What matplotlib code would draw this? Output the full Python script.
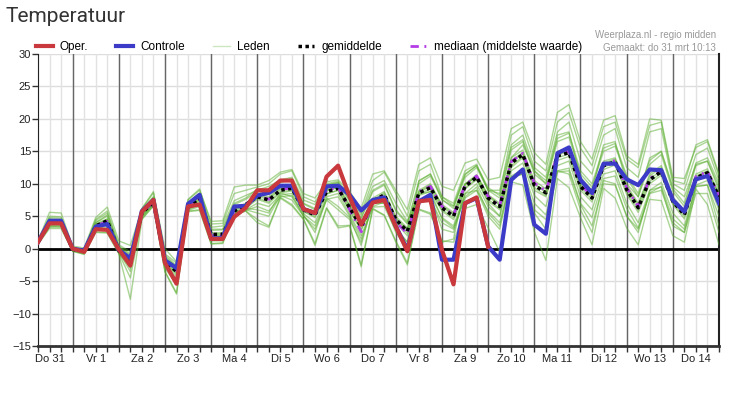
import numpy as np
import matplotlib.pyplot as plt
from matplotlib.lines import Line2D

plt.rcParams['font.family'] = ['Liberation Sans', 'DejaVu Sans']

# tijdstappen van 6 uur, vanaf do 31 06:00 (uren sinds do 31 00:00)
uren = np.arange(6, 361, 6)
dagen = ['Do 31', 'Vr 1', 'Za 2', 'Zo 3', 'Ma 4', 'Di 5', 'Wo 6', 'Do 7',
         'Vr 8', 'Za 9', 'Zo 10', 'Ma 11', 'Di 12', 'Wo 13', 'Do 14']

oper = [1.0, 3.9, 3.9, 0.0, -0.5, 3.0, 2.9, -0.1, -2.6, 5.7, 7.5, -2.2,
        -5.4, 6.5, 6.8, 1.5, 1.5, 4.9, 6.3, 9.0, 9.0, 10.5, 10.5, 6.1,
        5.5, 11.1, 12.8, 8.0, 3.7, 7.1, 7.5, 3.4, -0.4, 7.3, 7.5, -0.2,
        -5.5, 7.0, 7.9, 0.3]

controle = [1.0, 4.3, 4.3, 0.0, -0.3, 3.4, 3.8, -0.2, -1.5, 5.8, 7.5, -1.8,
            -3.0, 6.9, 8.3, 1.6, 1.6, 6.5, 6.6, 8.2, 8.6, 9.7, 9.7, 6.1,
            5.5, 9.6, 9.7, 8.3, 5.9, 7.5, 7.9, 3.5, -0.2, 7.3, 8.3, -1.7,
            -1.7, 7.0, 7.8, 0.35, -1.7, 10.6, 12.2, 3.7, 2.3, 14.7, 15.6, 10.6,
            8.6, 13.1, 13.1, 10.7, 9.8, 12.2, 12.1, 7.5, 5.7, 10.7, 11.2, 7.0]

gemiddelde = [1.0, 4.0, 4.0, -0.1, -0.4, 3.5, 4.3, -0.3, -1.8, 5.5, 7.2, -2.0,
              -3.5, 6.4, 7.8, 2.2, 2.2, 5.8, 6.8, 8.0, 7.5, 9.0, 9.3, 6.0,
              5.2, 8.8, 9.3, 6.3, 3.4, 7.3, 8.3, 4.5, 2.7, 8.6, 9.4, 6.3,
              5.0, 9.6, 11.0, 7.8, 6.5, 13.2, 14.5, 9.8, 8.6, 14.3, 14.8, 9.6,
              7.8, 12.8, 13.4, 9.1, 6.3, 10.6, 11.9, 7.3, 5.2, 10.9, 11.7, 8.0]

mediaan = [1.0, 4.0, 4.0, -0.1, -0.4, 3.5, 4.2, -0.3, -1.7, 5.5, 7.2, -2.0,
           -3.4, 6.4, 7.8, 2.1, 2.1, 5.8, 6.7, 8.1, 7.6, 9.1, 9.4, 6.1,
           5.4, 9.0, 9.5, 6.0, 2.6, 7.2, 8.2, 4.2, 2.3, 8.8, 9.6, 6.5,
           5.2, 9.8, 11.2, 8.0, 6.6, 13.4, 14.7, 10.1, 8.9, 14.4, 15.0, 9.9,
           8.1, 13.0, 13.6, 9.4, 6.5, 10.8, 12.1, 7.5, 5.5, 11.1, 11.9, 8.1]

leden = [
    [1.0, 4.3, 4.2, 0.0, -0.3, 3.8, 4.6, -0.2, -1.5, 5.7, 7.5, -1.8, -3.2, 6.6, 8.0, 2.4,
     2.5, 6.2, 7.0, 8.4, 8.0, 9.5, 9.8, 6.3, 5.6, 9.2, 9.6, 6.8, 4.0, 7.8, 8.8, 5.0,
     3.2, 9.0, 10.0, 6.8, 5.6, 10.0, 11.4, 8.3, 7.0, 14.0, 15.2, 10.5, 9.2, 15.0, 15.5, 10.2,
     8.5, 13.5, 14.0, 9.8, 7.0, 11.5, 12.8, 8.0, 5.8, 11.5, 12.3, 8.6],
    [1.0, 3.7, 3.8, -0.2, -0.6, 3.2, 4.0, -0.5, -2.2, 5.2, 6.9, -2.3, -3.9, 6.2, 7.5, 1.9,
     2.0, 5.6, 6.2, 7.6, 7.0, 8.6, 8.9, 5.7, 4.8, 8.4, 9.0, 5.8, 2.8, 6.9, 7.8, 4.0,
     2.0, 8.2, 8.8, 5.8, 4.5, 9.2, 10.6, 7.3, 6.0, 12.5, 14.0, 9.0, 8.0, 13.6, 14.2, 9.0,
     7.2, 12.2, 12.9, 8.4, 5.6, 10.0, 11.3, 6.8, 4.6, 10.4, 11.2, 7.6],
    [1.2, 5.6, 5.5, 0.4, 0.1, 4.8, 6.4, 1.2, 0.5, 6.1, 8.6, 0.0, -2.0, 7.5, 9.0, 4.2,
     4.3, 9.5, 9.8, 9.8, 10.5, 11.8, 12.2, 8.5, 7.8, 10.3, 10.6, 8.8, 6.2, 11.5, 12.0, 9.0,
     6.0, 13.0, 14.0, 9.6, 9.0, 13.2, 13.8, 10.6, 11.0, 18.5, 19.5, 14.8, 13.0, 21.0, 22.2, 16.5,
     13.8, 19.8, 20.5, 14.3, 13.0, 20.0, 19.8, 11.0, 10.8, 15.6, 16.5, 11.2],
    [0.7, 3.1, 3.1, -0.4, -0.9, 2.5, 2.4, -0.7, -4.5, 4.6, 6.6, -3.5, -6.8, 5.8, 6.0, 0.8,
     0.9, 5.3, 5.8, 4.5, 3.5, 7.9, 6.8, 4.6, 0.8, 6.3, 3.5, 3.6, -2.5, 6.2, 5.2, 1.2,
     -2.2, 6.1, 5.5, 1.2, 1.0, 6.2, 6.8, 3.2, -0.5, 10.3, 9.8, 2.6, -1.8, 10.8, 9.4, 4.8,
     0.6, 9.3, 7.8, 3.2, 0.6, 7.6, 7.4, 2.0, 1.0, 9.2, 6.8, 0.6],
    [1.1, 4.8, 4.7, 0.2, -0.1, 4.3, 5.5, 0.4, -0.8, 6.0, 8.0, -1.0, -2.6, 7.0, 8.6, 3.3,
     3.5, 7.4, 8.2, 9.0, 9.6, 10.6, 11.0, 7.5, 6.8, 9.8, 10.2, 7.8, 5.2, 9.6, 10.5, 7.0,
     4.2, 8.4, 8.8, 4.6, 3.2, 8.0, 9.5, 5.5, 3.5, 11.0, 11.5, 6.0, 4.5, 11.8, 12.0, 6.8,
     3.5, 10.0, 9.8, 5.0, 3.0, 8.5, 9.0, 4.0, 2.5, 9.6, 9.8, 3.5],
    [0.9, 3.5, 3.4, -0.3, -0.7, 3.0, 3.2, -0.6, -3.0, 4.9, 6.8, -2.8, -5.0, 6.0, 6.8, 1.3,
     1.4, 5.5, 6.0, 5.5, 5.0, 8.2, 7.5, 5.0, 3.0, 7.5, 6.0, 4.5, 1.0, 7.0, 7.0, 3.0,
     1.0, 10.5, 11.5, 7.5, 6.5, 11.5, 12.8, 9.0, 9.0, 16.0, 17.5, 12.5, 11.0, 18.0, 19.5, 13.5,
     11.5, 17.5, 18.5, 12.5, 11.0, 18.0, 18.5, 10.0, 9.0, 14.5, 15.5, 10.5],
    [1.0, 4.1, 4.0, -0.1, -0.4, 3.6, 4.4, -0.3, -1.9, 5.5, 7.2, -2.0, -3.6, 6.4, 7.8, 2.2,
     2.2, 5.9, 6.6, 8.0, 7.6, 9.1, 9.5, 6.1, 5.3, 8.9, 9.4, 6.4, 3.5, 7.4, 8.4, 4.6,
     2.8, 8.7, 9.6, 6.4, 5.2, 9.8, 11.2, 8.0, 6.7, 13.4, 14.6, 9.9, 8.7, 14.4, 15.0, 9.8,
     8.0, 13.0, 13.6, 9.3, 6.5, 10.8, 12.0, 7.4, 5.4, 11.0, 11.8, 8.2],
    [0.8, 3.3, 3.3, -0.4, -0.8, 2.6, 2.5, -0.8, -7.8, 4.5, 6.6, -3.6, -7.0, 5.7, 5.9, 0.7,
     0.8, 5.2, 5.8, 4.0, 3.3, 7.8, 6.6, 4.5, 0.5, 6.2, 3.2, 3.5, -2.8, 6.1, 5.1, 1.0,
     -2.5, 6.0, 5.3, 1.0, 1.5, 10.0, 11.0, 7.0, 5.0, 14.0, 16.0, 12.0, 10.0, 17.5, 18.0, 11.0,
     9.0, 16.0, 16.5, 10.0, 8.0, 14.0, 15.0, 9.5, 8.0, 13.0, 13.5, 9.0],
    [1.0, 4.5, 4.4, 0.1, -0.2, 4.0, 5.0, 0.2, -1.2, 5.9, 7.8, -1.4, -2.9, 6.9, 8.4, 2.8,
     2.9, 6.8, 7.6, 8.8, 8.6, 10.2, 10.6, 6.9, 6.0, 9.6, 10.0, 7.3, 4.6, 8.8, 9.8, 5.8,
     3.8, 10.0, 11.2, 7.6, 6.2, 11.0, 12.5, 9.0, 7.8, 15.2, 16.5, 11.5, 10.0, 16.5, 17.2, 11.5,
     9.5, 15.0, 15.8, 11.0, 8.0, 13.0, 14.5, 8.8, 6.5, 12.8, 13.5, 9.5],
    [0.9, 3.9, 3.7, -0.2, -0.5, 3.4, 3.8, -0.4, -2.6, 5.0, 7.0, -2.5, -4.2, 6.1, 7.3, 1.6,
     1.7, 5.5, 6.0, 7.0, 6.5, 8.3, 8.5, 5.4, 4.0, 8.0, 8.5, 5.3, 2.0, 6.5, 7.2, 3.2,
     1.0, 7.5, 8.2, 4.8, 3.5, 8.5, 10.0, 6.5, 5.0, 12.0, 13.2, 8.2, 6.5, 12.8, 13.5, 8.0,
     6.0, 11.5, 12.0, 7.0, 4.0, 9.0, 10.2, 5.5, 3.5, 9.8, 10.5, 6.0],
    [1.1, 5.0, 4.9, 0.2, -0.2, 4.5, 5.8, 0.6, -0.5, 6.2, 8.8, -0.8, -2.2, 7.6, 9.2, 3.8,
     3.9, 8.5, 9.0, 9.5, 10.0, 11.5, 12.0, 8.0, 7.2, 10.0, 10.4, 8.0, 5.5, 10.5, 11.8, 8.5,
     5.0, 12.0, 13.0, 8.0, 7.0, 12.0, 13.0, 9.0, 8.5, 17.5, 18.8, 13.5, 12.0, 19.5, 21.0, 15.5,
     12.8, 18.8, 19.5, 13.8, 12.5, 19.0, 19.5, 10.5, 10.0, 16.0, 16.8, 11.5],
    [0.9, 3.6, 3.6, -0.3, -0.6, 3.1, 3.5, -0.5, -3.5, 5.3, 7.0, -3.0, -5.5, 6.1, 7.0, 1.4,
     1.5, 5.6, 6.2, 6.0, 5.5, 8.6, 8.0, 5.2, 2.5, 7.8, 6.5, 4.8, 0.5, 7.2, 7.0, 2.5,
     0.0, 7.5, 8.0, 3.0, 2.5, 8.5, 9.0, 5.0, 3.0, 11.0, 11.5, 5.5, 3.0, 12.0, 11.5, 6.0,
     2.5, 10.5, 10.0, 5.0, 2.5, 9.0, 9.5, 3.5, 2.5, 8.5, 8.5, 2.5],
    [1.0, 4.2, 4.1, 0.0, -0.3, 3.7, 4.5, -0.1, -1.6, 5.6, 7.4, -1.9, -3.4, 6.5, 7.9, 2.3,
     2.3, 6.0, 6.8, 8.2, 7.8, 9.3, 9.6, 6.2, 5.4, 9.0, 9.5, 6.5, 3.6, 7.5, 8.6, 4.7,
     3.0, 8.8, 9.8, 6.6, 5.4, 9.9, 11.2, 8.2, 6.8, 13.6, 14.8, 10.0, 8.8, 14.6, 15.2, 10.0,
     8.2, 13.2, 13.8, 9.5, 6.8, 11.2, 12.5, 7.6, 5.6, 11.2, 12.0, 8.4],
    [0.9, 3.8, 3.9, -0.2, -0.5, 3.3, 4.1, -0.4, -2.0, 5.3, 7.0, -2.2, -3.8, 6.3, 7.6, 2.0,
     2.0, 5.7, 6.4, 7.8, 7.2, 8.8, 9.0, 5.8, 5.0, 8.5, 9.0, 6.0, 3.0, 7.0, 8.0, 4.2,
     2.4, 8.4, 9.2, 6.0, 4.8, 9.4, 10.8, 7.6, 6.2, 12.8, 14.2, 9.4, 8.2, 14.0, 14.6, 9.4,
     7.6, 12.6, 13.2, 8.8, 6.0, 10.4, 11.6, 7.0, 5.0, 10.6, 11.4, 7.8],
    [1.0, 4.6, 4.5, 0.1, -0.2, 4.0, 5.2, 0.3, -1.0, 5.8, 7.9, -1.2, -2.8, 7.0, 8.5, 3.0,
     3.0, 7.0, 7.8, 9.2, 9.0, 10.4, 10.8, 7.0, 6.2, 9.8, 10.2, 7.5, 4.8, 9.0, 10.0, 6.0,
     4.0, 10.4, 11.5, 8.0, 6.6, 11.4, 12.8, 9.4, 8.2, 15.6, 16.8, 12.0, 10.5, 17.0, 17.8, 12.0,
     10.0, 15.5, 16.2, 11.3, 8.5, 13.6, 15.0, 9.2, 7.0, 13.2, 14.0, 10.0],
    [0.8, 3.4, 3.5, -0.3, -0.7, 2.8, 3.0, -0.6, -2.8, 4.8, 6.8, -2.6, -4.6, 5.9, 6.5, 1.2,
     1.2, 5.4, 5.9, 6.5, 5.8, 8.0, 8.2, 5.0, 3.5, 7.6, 8.0, 5.0, 1.5, 6.4, 6.5, 2.8,
     0.5, 7.0, 7.6, 4.0, 3.0, 7.8, 9.0, 5.8, 4.0, 11.2, 12.2, 7.0, 5.2, 12.0, 12.4, 7.0,
     4.8, 10.8, 11.2, 6.2, 3.2, 8.6, 9.6, 4.6, 3.0, 9.6, 9.8, 5.0],
]

rood = '#c8383c'
blauw = '#3b3bc8'
groen = '#58ad2c'
paars = '#b43ce6'
streep_punt = (3, 2, 0.7, 2)

fig = plt.figure(figsize=(7.47, 3.95), dpi=100)
ax = fig.add_axes([38 / 747, 1 - 346 / 395, 681 / 747, 292 / 395])

# raster
for y in range(-15, 31, 5):
    ax.axhline(y, color='#dddddd', lw=1, zorder=0)
for u in uren:
    ax.axvline(u, color='#e2e2e2', lw=1, zorder=0)
for d in range(1, 15):
    ax.axvline(24 * d, color='#666666', lw=1, zorder=1)
ax.axhline(0, color='black', lw=2, zorder=2)

for lid in leden:
    ax.plot(uren, lid, color=groen, lw=1, alpha=0.5, zorder=3)
ax.plot(uren, mediaan, color=paars, lw=2, dashes=streep_punt, zorder=4)
ax.plot(uren, gemiddelde, color='black', lw=2.5, ls=(0, (1, 1)), zorder=5)
ax.plot(uren, controle, color=blauw, lw=3, zorder=6)
ax.plot(uren[:len(oper)], oper, color=rood, lw=3, zorder=7)

ax.set_xlim(6, 360)
ax.set_ylim(-15, 30)
ax.set_yticks(range(-15, 31, 5))
ax.xaxis.remove_overlapping_locs = False
ax.set_xticks(uren)
ax.set_xticklabels([])
ax.set_xticks([12 + 24 * i for i in range(len(dagen))], minor=True)
ax.set_xticklabels(dagen, minor=True)
ax.tick_params(axis='x', which='major', length=4, width=1, color='#333333')
ax.tick_params(axis='x', which='minor', length=0, pad=6, labelsize=8, labelcolor='#222222')
ax.tick_params(axis='y', length=4, width=1, pad=1, labelsize=8, labelcolor='#222222', color='#333333')

ax.spines['top'].set_visible(False)
ax.spines['left'].set_color('#222222')
ax.spines['right'].set_color('#222222')
ax.spines['right'].set_linewidth(1.5)
ax.spines['bottom'].set_color('#333333')
ax.spines['bottom'].set_linewidth(2)

handles = [
    Line2D([], [], color=rood, lw=3),
    Line2D([], [], color=blauw, lw=3),
    Line2D([], [], color=groen, lw=1, alpha=0.3),
    Line2D([], [], color='black', lw=2.5, ls=(0, (1, 1))),
    Line2D([], [], color=paars, lw=2, dashes=streep_punt),
]
labels = ['Oper.', 'Controle', 'Leden', 'gemiddelde', 'mediaan (middelste waarde)']
fig.legend(handles, labels, loc='center left', bbox_to_anchor=(36 / 747, 1 - 47 / 395),
           ncol=5, frameon=False, fontsize=8.5, handlelength=1.4, handletextpad=0.6,
           columnspacing=2.4, borderpad=0, borderaxespad=0)

fig.text(5 / 747, 1 - 17 / 395, 'Temperatuur', fontsize=15, family='Roboto',
         color='#333333', va='center', ha='left')
fig.text(716 / 747, 1 - 35 / 395, 'Weerplaza.nl - regio midden', fontsize=7,
         color='#999999', ha='right', va='center')
fig.text(716 / 747, 1 - 48 / 395, 'Gemaakt: do 31 mrt 10:13', fontsize=7,
         color='#999999', ha='right', va='center')

fig.savefig('out.png', dpi=100)
